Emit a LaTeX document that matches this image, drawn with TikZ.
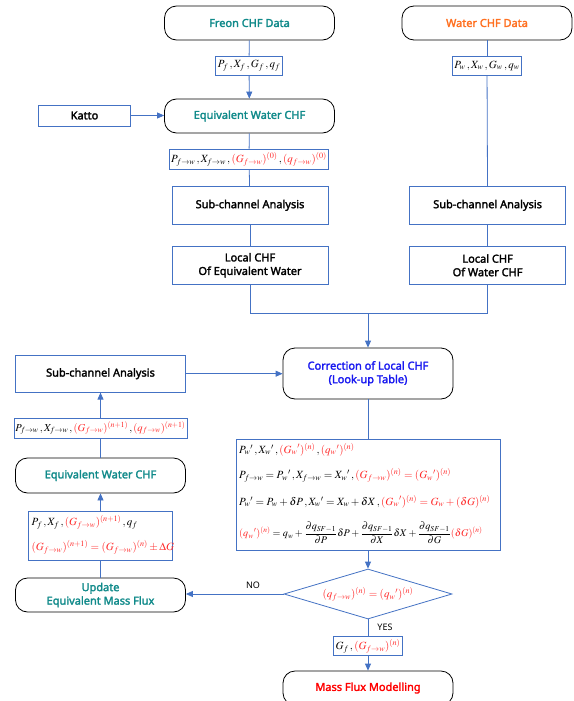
\documentclass[tikz,border=0pt]{standalone}
\usepackage{amsmath}
\usepackage{mathptmx}
\usepackage[no-math]{fontspec}
\setmainfont{Noto Sans}[AutoFakeBold=2.2]
\usetikzlibrary{shapes.geometric,arrows.meta}
\definecolor{lnblue}{RGB}{68,114,196}
\definecolor{tealc}{RGB}{16,138,138}
\definecolor{orangec}{RGB}{255,112,32}
\definecolor{bluec}{RGB}{24,24,240}
\definecolor{redc}{RGB}{255,0,0}
\definecolor{mred}{RGB}{255,40,40}
\newcommand{\rdm}[1]{\textcolor{mred}{#1}}
\newcommand{\cma}{\,,}
\begin{document}
\begin{tikzpicture}[x=1pt,y=-1pt,
  rbox/.style={draw=black, line width=0.8pt, rounded corners=12pt, fill=white, inner sep=0pt, align=center, font=\bfseries\fontsize{11}{13.5}\selectfont},
  bbox/.style={draw=lnblue, line width=0.8pt, fill=white, inner sep=0pt, align=center, font=\bfseries\fontsize{11}{13.5}\selectfont},
  lbox/.style={draw=lnblue, line width=0.8pt, fill=white, inner sep=2pt, minimum height=19pt, font=\fontsize{11}{12}\selectfont},
  eqline/.style={anchor=west, inner sep=0pt, font=\fontsize{11}{12}\selectfont},
  ln/.style={draw=lnblue, line width=0.8pt},
  arr/.style={draw=lnblue, line width=0.8pt, -{Triangle[length=7pt,width=6pt]}, shorten >=0pt},
  lab/.style={font=\fontsize{9}{10}\selectfont, inner sep=0pt}
]
\useasboundingbox (0,0) rectangle (573,701);

% top row
\node[rbox, minimum width=170, minimum height=34, text=tealc] (freon) at (249.5,23) {Freon CHF Data};
\node[rbox, minimum width=170, minimum height=34, text=orangec] (water) at (487,23) {Water CHF Data};
\node[lbox] (pf) at (249,65.5) {$P_f\cma X_f\cma G_f\cma q_f$};
\node[lbox] (pw) at (487,65.5) {$P_w\cma X_w\cma G_w\cma q_w$};
\node[rbox, minimum width=170, minimum height=34, text=tealc] (eq1) at (249.5,116) {Equivalent Water CHF};
\node[bbox, minimum width=92, minimum height=21] (katto) at (84.5,115.5) {Katto};
\node[lbox, minimum height=20, inner sep=1.5pt] (pfw0) at (249,159) {$P_{f\to w}\cma X_{f\to w}\cma\rdm{(G_{f\to w})^{(0)}}\cma\rdm{(q_{f\to w})^{(0)}}$};
\node[bbox, minimum width=156, minimum height=37.5] (sca1) at (250,205.3) {Sub-channel Analysis};
\node[bbox, minimum width=156, minimum height=37.5] (loc1) at (250,265.3) {Local CHF\\Of Equivalent Water};
\node[bbox, minimum width=156, minimum height=37.5] (sca2) at (487.6,205.3) {Sub-channel Analysis};
\node[bbox, minimum width=156, minimum height=37.5] (loc2) at (487.6,265.3) {Local CHF\\Of Water CHF};
\coordinate (j) at (368,313);

% middle
\node[rbox, minimum width=170, minimum height=51, text=bluec] (corr) at (368,373.5) {Correction of Local CHF\\(Look-up Table)};
\node[bbox, minimum width=170, minimum height=37] (sca3) at (100.5,373.7) {Sub-channel Analysis};
\node[lbox, minimum height=20, inner sep=1.5pt, font=\fontsize{10.6}{12}\selectfont] (pfw1) at (100.5,428) {$P_{f\to w}\cma X_{f\to w}\cma\rdm{(G_{f\to w})^{(n+1)}}\cma\rdm{(q_{f\to w})^{(n+1)}}$};
\node[rbox, minimum width=170, minimum height=35, text=tealc] (eq2) at (100.5,475.5) {Equivalent Water CHF};
\node[draw=lnblue, line width=0.8pt, fill=white, minimum width=144, minimum height=49, inner sep=0pt] (pfx) at (100.5,535.5) {};
\node[eqline] (pfxa) at (31.5,522) {$P_f\cma X_f\cma\rdm{(G_{f\to w})^{(n+1)}}\cma q_f$};
\node[eqline] (pfxb) at (31.5,547.5) {$\rdm{(G_{f\to w})^{(n+1)}=(G_{f\to w})^{(n)}\pm\Delta G}$};
\node[rbox, minimum width=170, minimum height=34, text=tealc] (upd) at (100.5,595) {Update\\Equivalent Mass Flux};

% big equation box
\node[draw=lnblue, line width=0.8pt, fill=white, minimum width=264, minimum height=111, inner sep=0pt] (eqbox) at (368,494.5) {};
\node[eqline] (e1) at (239,449.5) {${P_w}'\cma{X_w}'\cma\rdm{({G_w}')^{(n)}}\cma\rdm{({q_w}')^{(n)}}$};
\node[eqline] (e2) at (239,475) {$P_{f\to w}={P_w}'\cma X_{f\to w}={X_w}'\cma\rdm{(G_{f\to w})^{(n)}=({G_w}')^{(n)}}$};
\node[eqline] (e3) at (239,501.5) {${P_w}'=P_w+\delta P\cma{X_w}'=X_w+\delta X\cma\rdm{({G_w}')^{(n)}=G_w+(\delta G)^{(n)}}$};
\node[eqline, font=\fontsize{10.2}{12}\selectfont] (e4) at (239,533) {$\rdm{({q_w}')^{(n)}}=q_w+\dfrac{\partial q_{SF-1}}{\partial P}\delta P+\dfrac{\partial q_{SF-1}}{\partial X}\delta X+\dfrac{\partial q_{SF-1}}{\partial G}\rdm{(\delta G)^{(n)}}$};

% decision
\node[draw=lnblue, line width=0.8pt, fill=white, shape=diamond, aspect=3.36, minimum width=168, minimum height=50, inner sep=0pt, font=\fontsize{11}{12}\selectfont] (dia) at (368,594) {$\rdm{(q_{f\to w})^{(n)}=({q_w}')^{(n)}}$};
\node[lbox] (gf) at (368,646) {$G_f\cma\rdm{(G_{f\to w})^{(n)}}$};
\node[rbox, minimum width=170, minimum height=34, text=redc] (mf) at (368,688) {Mass Flux Modelling};
\node[lab] (no) at (253,585.5) {NO};
\node[lab] (yes) at (385,627) {YES};

% connectors
\draw[ln] (freon) -- (pf);
\draw[arr] (pf) -- (eq1);
\draw[arr] (katto) -- (katto -| eq1.west);
\draw[ln] (eq1) -- (pfw0);
\draw[ln] (pfw0) -- (sca1);
\draw[ln] (sca1) -- (loc1);
\draw[ln] (water) -- (pw);
\draw[ln] (pw) -- (sca2);
\draw[ln] (sca2) -- (loc2);
\draw[ln] (loc1.south) |- (j);
\draw[ln] (loc2.south) |- (j);
\draw[arr] (j) -- (corr);
\draw[arr] (sca3) -- (sca3 -| corr.west);
\draw[arr] (pfw1) -- (sca3);
\draw[ln] (eq2) -- (pfw1);
\draw[arr] (pfx) -- (eq2);
\draw[ln] (upd) -- (pfx);
\draw[ln] (corr) -- (eqbox);
\draw[arr] (eqbox) -- (dia);
\draw[arr] (dia.west) -- (dia.west -| upd.east);
\draw[ln] (dia) -- (gf);
\draw[arr] (gf) -- (mf);
\end{tikzpicture}
\end{document}
